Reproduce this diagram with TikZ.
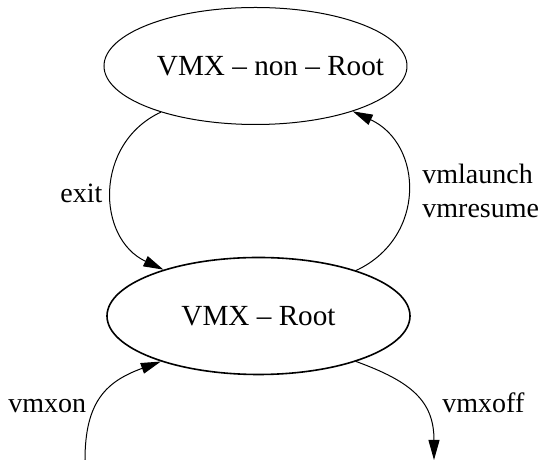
\documentclass[tikz,border=0pt]{standalone}
\usepackage{fontspec}
\setmainfont{Liberation Serif}
\usetikzlibrary{shapes.geometric, arrows.meta}

\begin{document}
\begin{tikzpicture}[x=0.5pt, y=0.5pt,
		every node/.style={font=\fontsize{14}{17}\selectfont},
		state/.style={draw, ellipse, inner sep=0pt, minimum width=151.5pt, minimum height=58.5pt, font=\fontsize{14.6}{17}\selectfont},
		lbl/.style={inner sep=0pt},
		trans/.style={line width=0.5pt, -{Triangle[length=10pt, width=5.5pt]}}]
			\useasboundingbox (0,0) rectangle (543,460);
			\node [state, line width=0.5pt] (nonroot) at (255.5,394) {\makebox[0pt]{\hspace{15pt}VMX -- non -- Root}};
			\node [state, line width=0.8pt] (root) at (258.5,144) {\makebox[0pt]{VMX -- Root}};
			\coordinate (on) at (85,0);
			\coordinate (off) at (434,0);

			\draw [trans] (nonroot.206) to [out=205, in=155, looseness=1.2] (root.154);
			\draw [trans] (root.25) to [out=25, in=-25, looseness=1.25] (nonroot.335);
			\draw [trans] (on) to [out=90, in=200, looseness=1.2] (root.205);
			\draw [trans] (root.335) to [out=-20, in=90, looseness=1.2] (off);

			\node [lbl, anchor=base west] (exit) at (60,257) {exit};
			\node [lbl, anchor=west, align=left] (launch) at (422,269.5) {vmlaunch\\vmresume};
			\node [lbl, anchor=base west] (vmxon) at (8,47) {vmxon};
			\node [lbl, anchor=base west] (vmxoff) at (442,47) {vmxoff};
		\end{tikzpicture}
\end{document}
